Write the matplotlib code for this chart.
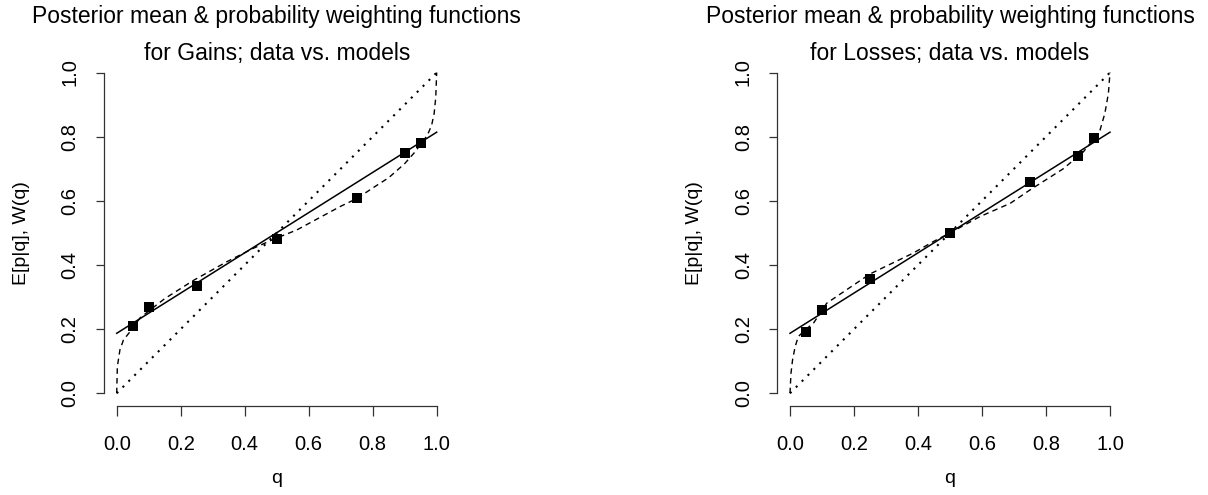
import matplotlib
matplotlib.use("Agg")
import matplotlib.pyplot as plt

plt.rcParams['font.family'] = ['Liberation Sans', 'DejaVu Sans']

# ---- data ----
q_points = [0.05, 0.10, 0.25, 0.50, 0.75, 0.90, 0.95]
gain_means = [0.210, 0.268, 0.335, 0.480, 0.608, 0.748, 0.780]
loss_means = [0.192, 0.260, 0.355, 0.500, 0.660, 0.740, 0.795]

linear_q = [0.0, 1.0]
gain_linear = [0.187, 0.814]
loss_linear = [0.187, 0.814]

diag_q = [0.0, 1.0]
diag_w = [0.0, 1.0]

gain_curve_q = [0.0, 0.002, 0.010, 0.021, 0.052, 0.073, 0.102, 0.150, 0.240, 0.344,
                0.427, 0.490, 0.5625, 0.698, 0.752, 0.800, 0.850, 0.900, 0.930,
                0.953, 0.971, 0.984, 0.992, 0.997, 1.0]
gain_curve_w = [0.0, 0.083, 0.135, 0.166, 0.205, 0.235, 0.258, 0.295, 0.352, 0.410,
                0.452, 0.480, 0.509, 0.582, 0.608, 0.640, 0.672, 0.716, 0.750,
                0.780, 0.805, 0.835, 0.872, 0.922, 1.0]

loss_curve_q = [0.0, 0.003, 0.008, 0.016, 0.026, 0.050, 0.073, 0.115, 0.250, 0.385,
                0.448, 0.500, 0.594, 0.688, 0.750, 0.854, 0.917, 0.951, 0.969,
                0.984, 0.995, 1.0]
loss_curve_w = [0.0, 0.062, 0.104, 0.145, 0.177, 0.200, 0.218, 0.281, 0.372, 0.437,
                0.473, 0.500, 0.551, 0.592, 0.634, 0.700, 0.753, 0.795, 0.821,
                0.873, 0.935, 1.0]

ticks = [0.0, 0.2, 0.4, 0.6, 0.8, 1.0]
tick_labels = ["0.0", "0.2", "0.4", "0.6", "0.8", "1.0"]
titles = ["Posterior mean & probability weighting functions\nfor Gains; data vs. models",
          "Posterior mean & probability weighting functions\nfor Losses; data vs. models"]

W, H = 1208, 495
fig = plt.figure(figsize=(W / 100, H / 100), dpi=100)

panels = [
    (103.9, gain_means, gain_linear, gain_curve_q, gain_curve_w, titles[0]),
    (777.2, loss_means, loss_linear, loss_curve_q, loss_curve_w, titles[1]),
]

for left_px, means, lin, cq, cw, title in panels:
    ax = fig.add_axes([left_px / W, (H - 406.1) / H, 345.6 / W, 346.4 / H])
    ax.set_xlim(-0.04, 1.04)
    ax.set_ylim(-0.04, 1.04)
    ax.plot(diag_q, diag_w, color='black', lw=1.5, linestyle=(0, (1, 3)),
            solid_capstyle='butt', dash_capstyle='butt')
    ax.plot(cq, cw, color='black', lw=1.0, linestyle=(0, (4, 3)))
    ax.plot(linear_q, lin, color='black', lw=1.1)
    ax.plot(q_points, means, linestyle='none', marker='s', markersize=7.5,
            color='black', markeredgewidth=0)

    for s in ['top', 'right']:
        ax.spines[s].set_visible(False)
    for s in ['left', 'bottom']:
        ax.spines[s].set_bounds(0, 1)
        ax.spines[s].set_linewidth(0.9)
        ax.spines[s].set_color('#333333')
    ax.set_xticks(ticks)
    ax.set_xticklabels(tick_labels)
    ax.set_yticks(ticks)
    ax.set_yticklabels(tick_labels, rotation=90, va='center')
    ax.tick_params(axis='x', length=7.5, width=0.9, color='#333333', pad=13,
                   labelsize=14.5)
    ax.tick_params(axis='y', length=5.5, width=0.9, color='#333333', pad=12,
                   labelsize=14.5)
    ax.set_xlabel("q", fontsize=14, va='baseline')
    ax.xaxis.set_label_coords(0.5, -(483 - 406.1) / 346.4)
    ax.set_ylabel("E[p|q], W(q)", fontsize=14, va='center')
    ax.yaxis.set_label_coords(-(103.9 - 21.7) / 345.6, 0.5)

    cx = (left_px + 172.8) / W
    line1, line2 = title.split("\n")
    fig.text(cx, 1 - 22.7 / H, line1, ha='center', va='baseline', fontsize=16.5)
    fig.text(cx, 1 - 60.0 / H, line2, ha='center', va='baseline', fontsize=16.5)

fig.savefig("out.png", dpi=100)
